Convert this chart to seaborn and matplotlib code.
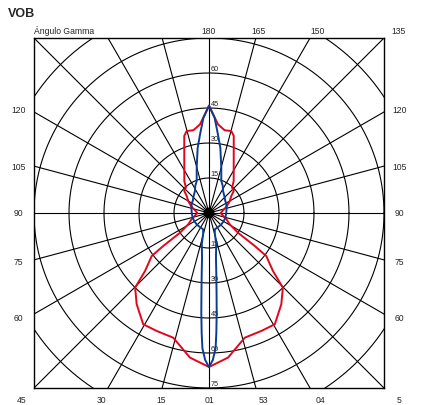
import numpy as np
import pandas as pd
import matplotlib
matplotlib.use("Agg")
import matplotlib.pyplot as plt
import seaborn as sns

# =========================
# data (gamma angle in degrees, intensity in chart units)
# =========================
gamma_red = [0, 7.5, 16, 24, 30.6, 38.4, 44.7, 47.8, 53.1, 54.2, 55.8, 61.4, 70, 80,
             90, 100, 110, 120, 127.3, 131.7, 137.7, 142.3, 154.6, 162.2, 164.8,
             169.3, 174.2, 180]
cd_red = [66, 62.5, 55.6, 55.3, 55.4, 49.9, 45, 37, 30.7, 24.2, 15, 10.1, 8, 6,
          5, 6, 8, 10.3, 12, 14.2, 14.7, 17.3, 24.7, 34.7, 36.4,
          36.1, 38.2, 46]

gamma_blue = [0, 1.5, 2.8, 3.5, 4.4, 5.4, 6.9, 8.8, 13, 16, 20, 30, 45, 60, 75,
              90, 105, 120, 127, 135, 147.5, 153, 159, 164.7, 170.1, 173.5, 176.6, 180]
cd_blue = [66, 63, 58, 51.5, 43, 34.4, 26, 19.5, 13.7, 9, 7.4, 7.2, 7.2, 7.2, 7.3,
           7.4, 7.8, 8.5, 8.7, 9.5, 11.2, 13, 14.7, 20, 28.3, 33.9, 40.8, 46]

rings = [15, 30, 45, 60, 75, 90]
ring_labels_top = [15, 30, 45, 60]
ring_labels_bottom = [15, 30, 45, 60, 75]

top_labels = ["180", "165", "150", "135"]
side_labels = ["120", "105", "90", "75", "60"]
bottom_labels = ["45", "30", "15", "01", "53", "04", "5"]

RED = "#e3051b"
BLUE = "#0a3d91"


def to_xy(gamma, cd):
    g = np.radians(np.asarray(gamma, dtype=float))
    r = np.asarray(cd, dtype=float)
    # gamma 0 points down, mirror both halves
    x = np.concatenate([r * np.sin(g), -(r * np.sin(g))[::-1]])
    y = np.concatenate([-r * np.cos(g), (-r * np.cos(g))[::-1]])
    return pd.DataFrame({"x": x, "y": y})


sns.set_theme(style="white")
plt.rcParams["font.family"] = ["Liberation Sans", "DejaVu Sans"]

fig = plt.figure(figsize=(4.23, 4.05), dpi=100)
ax = fig.add_axes([34 / 423, 17 / 405, 350 / 423, 350 / 405])
ax.set_xlim(-75, 75)
ax.set_ylim(-75, 75)
ax.set_aspect("equal")
ax.set_xticks([])
ax.set_yticks([])
for s in ax.spines.values():
    s.set_color("black")
    s.set_linewidth(1.0)

# grid: rings + radial lines
t = np.linspace(0, 2 * np.pi, 400)
for r in rings:
    ax.plot(r * np.cos(t), r * np.sin(t), color="black", lw=0.8, zorder=1)
for a in np.arange(0, 360, 15):
    ar = np.radians(a)
    ax.plot([0, 120 * np.cos(ar)], [0, 120 * np.sin(ar)], color="black", lw=0.8, zorder=1)
ax.add_patch(plt.Circle((0, 0), 2.0, color="black", zorder=2))

# ring labels along the vertical axis
for r in ring_labels_top:
    ax.text(0.8, r, str(r), fontsize=5.2, va="bottom", ha="left", color="#222222", zorder=3)
for r in ring_labels_bottom:
    ax.text(0.8, -r, str(r), fontsize=5.2, va="bottom", ha="left", color="#222222", zorder=3)

# curves
red = to_xy(gamma_red, cd_red)
blue = to_xy(gamma_blue, cd_blue)
sns.lineplot(data=red, x="x", y="y", sort=False, estimator=None, color=RED, lw=1.4, ax=ax, zorder=4)
sns.lineplot(data=blue, x="x", y="y", sort=False, estimator=None, color=BLUE, lw=1.4, ax=ax, zorder=5)
ax.set_xlabel("")
ax.set_ylabel("")

# outside labels
fs = 6.2
ytop = 78.0
for lab, xx in zip(top_labels, [0, 21.4, 46.7, 81.4]):
    ax.text(xx, ytop, lab, fontsize=fs, ha="center", va="center", clip_on=False)
ax.text(-75, ytop, "Ángulo Gamma", fontsize=fs, ha="left", va="center", clip_on=False)
fig.text(8 / 423, 1 - 14 / 405, "VOB", fontsize=9, fontweight="bold", ha="left", va="center")

for lab, yy in zip(side_labels, [44.1, 19.3, -0.4, -21.4, -45.4]):
    ax.text(-81.5, yy, lab, fontsize=fs, ha="center", va="center", clip_on=False)
    ax.text(81.5, yy, lab, fontsize=fs, ha="center", va="center", clip_on=False)

for lab, xx in zip(bottom_labels, [-80.1, -46.3, -20.3, 0.4, 23.1, 47.6, 81.4]):
    ax.text(xx, -80.2, lab, fontsize=fs, ha="center", va="center", clip_on=False)

fig.savefig("out.png", dpi=100, facecolor="white")
